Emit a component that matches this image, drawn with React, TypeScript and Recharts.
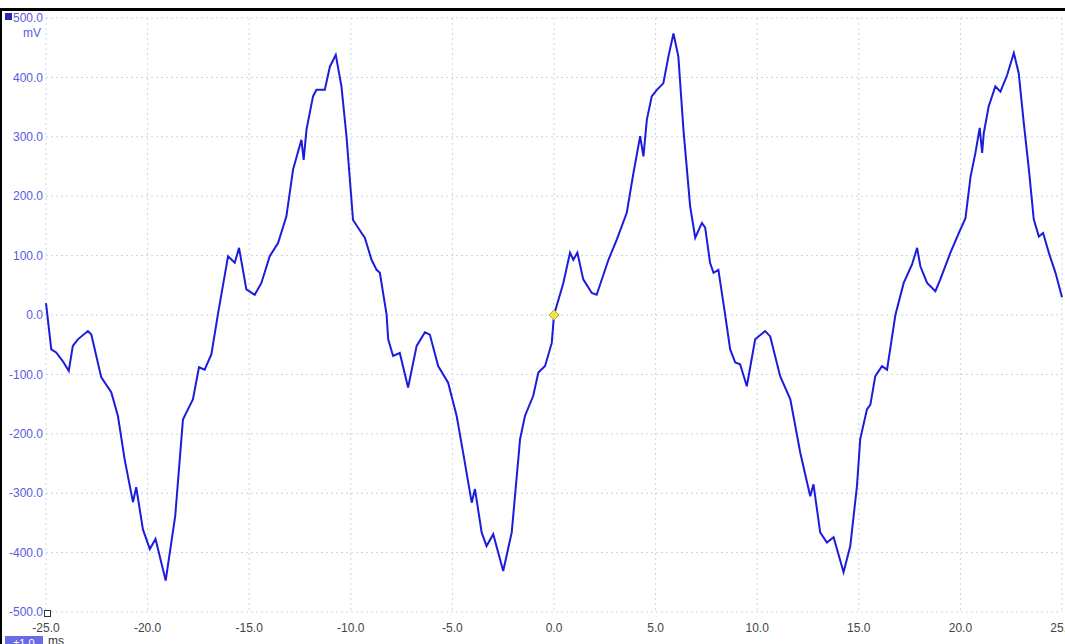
import { LineChart, Line, XAxis, YAxis, CartesianGrid, ReferenceDot } from 'recharts'

// time (ms) and voltage (mV)
const timeMs = [
  -25.0, -24.74, -24.5, -24.17, -23.88, -23.68, -23.43, -22.94, -22.77, -22.28,
  -21.79, -21.46, -21.13, -20.72, -20.56, -20.23, -19.89, -19.61, -19.11, -18.64,
  -18.26, -18.09, -17.77, -17.47, -17.19, -16.86, -16.54, -16.04, -15.71, -15.5,
  -15.14, -14.73, -14.4, -13.99, -13.58, -13.17, -12.84, -12.43, -12.32, -12.18,
  -11.86, -11.69, -11.28, -11.03, -10.74, -10.46, -10.21, -9.89, -9.47, -9.31,
  -8.98, -8.73, -8.57, -8.24, -8.16, -7.92, -7.59, -7.18, -6.76, -6.35,
  -6.11, -5.7, -5.21, -4.79, -4.47, -4.05, -3.89, -3.56, -3.32, -2.99,
  -2.5, -2.08, -1.67, -1.43, -1.02, -0.77, -0.44, -0.11, 0, 0.46,
  0.79, 0.95, 1.15, 1.44, 1.86, 2.1, 2.68, 3.09, 3.58, 3.91,
  4.24, 4.4, 4.57, 4.81, 5.06, 5.38, 5.63, 5.88, 6.12, 6.37,
  6.7, 6.95, 7.28, 7.44, 7.68, 7.85, 8.09, 8.42, 8.67, 8.92,
  9.16, 9.49, 9.9, 10.39, 10.64, 11.13, 11.63, 12.12, 12.61, 12.77,
  13.1, 13.43, 13.76, 14.25, 14.58, 14.91, 15.07, 15.4, 15.57, 15.81,
  16.14, 16.39, 16.8, 17.21, 17.62, 17.87, 18.03, 18.36, 18.77, 19.01,
  19.51, 19.92, 20.25, 20.5, 20.74, 20.95, 21.07, 21.15, 21.39, 21.72,
  21.97, 22.3, 22.63, 22.87, 23.12, 23.37, 23.61, 23.86, 24.07, 24.35,
  24.68, 25.0,
]

const voltageMv = [
  20, -58, -63, -78, -94, -52, -41, -27, -33, -105,
  -130, -170, -243, -315, -290, -361, -394, -377, -447, -338,
  -176, -164, -142, -88, -92, -66, 1, 99, 88, 113,
  43, 34, 54, 99, 121, 166, 245, 295, 261, 312,
  368, 379, 379, 418, 438, 385, 300, 160, 138, 130,
  93, 76, 71, 1, -41, -69, -64, -122, -52, -29,
  -33, -86, -114, -170, -232, -316, -293, -366, -389, -369,
  -431, -366, -209, -170, -136, -97, -86, -47, 0, 54,
  105, 93, 105, 60, 37, 34, 93, 127, 172, 239,
  301, 267, 329, 368, 379, 390, 435, 474, 435, 312,
  183, 130, 155, 147, 88, 71, 76, 1, -58, -80,
  -83, -120, -41, -27, -36, -103, -142, -232, -305, -285,
  -366, -383, -374, -433, -389, -288, -209, -159, -151, -103,
  -86, -92, 0, 54, 85, 113, 82, 54, 40, 60,
  105, 138, 163, 233, 273, 315, 273, 306, 351, 385,
  376, 404, 441, 407, 323, 245, 161, 132, 138, 105,
  71, 30,
]

const xTicks = [-25, -20, -15, -10, -5, 0, 5, 10, 15, 20, 25]
const yTicks = [-500, -400, -300, -200, -100, 0, 100, 200, 300, 400, 500]

const data = timeMs.map((t, i) => ({ t, v: voltageMv[i] }))

const FONT = '"Liberation Sans", Arial, sans-serif'
const GRID = '#c6d6e6'
const TRACE = '#1c1cdc'
const AXIS_BLUE = '#5a5ae0'

function Diamond(props: any) {
  const { cx, cy } = props
  const r = 5
  return (
    <polygon
      points={`${cx},${cy - r} ${cx + r},${cy} ${cx},${cy + r} ${cx - r},${cy}`}
      fill="#f2e63a"
      stroke="#b0a860"
      strokeWidth={1}
    />
  )
}

export default function App() {
  return (
    <div
      style={{
        position: 'absolute',
        left: 0,
        top: 0,
        width: 1065,
        height: 644,
        background: '#fff',
        overflow: 'hidden',
        fontFamily: FONT,
      }}
    >
      <LineChart
        width={1065}
        height={644}
        data={data}
        margin={{ top: 18, right: 3, left: 0, bottom: 0 }}
      >
        <CartesianGrid stroke={GRID} strokeDasharray="2 3" />
        <XAxis
          dataKey="t"
          type="number"
          domain={[-25, 25]}
          ticks={xTicks}
          tickFormatter={(v) => v.toFixed(1)}
          axisLine={false}
          tickLine={false}
          tickSize={0}
          tickMargin={11}
          height={32}
          interval={0}
          tick={{ fill: '#444', fontSize: 12, fontFamily: FONT }}
        />
        <YAxis
          type="number"
          domain={[-500, 500]}
          ticks={yTicks}
          tickFormatter={(v) => v.toFixed(1)}
          axisLine={false}
          tickLine={false}
          tickSize={0}
          tickMargin={3}
          width={46}
          interval={0}
          tick={{ fill: AXIS_BLUE, fontSize: 12, fontFamily: FONT }}
        />
        <Line
          type="linear"
          dataKey="v"
          stroke={TRACE}
          strokeWidth={2}
          dot={false}
          isAnimationActive={false}
        />
        <ReferenceDot x={0} y={0} r={5} shape={<Diamond />} />
      </LineChart>

      {/* window frame */}
      <div style={{ position: 'absolute', left: 0, top: 8, width: 1065, height: 3, background: '#000' }} />
      <div style={{ position: 'absolute', left: 0, top: 8, width: 2, height: 636, background: '#000' }} />

      {/* channel marker and unit */}
      <div style={{ position: 'absolute', left: 5, top: 13, width: 7, height: 7, background: '#2a2aa8' }} />
      <div
        style={{
          position: 'absolute',
          right: 1065 - 41,
          top: 26,
          fontSize: 12,
          color: AXIS_BLUE,
          lineHeight: '14px',
        }}
      >
        mV
      </div>

      {/* trigger marker */}
      <div
        style={{
          position: 'absolute',
          left: 44,
          top: 610,
          width: 5,
          height: 5,
          border: '1px solid #333',
          background: '#fff',
        }}
      />

      {/* time base */}
      <div
        style={{
          position: 'absolute',
          left: 5,
          top: 636,
          width: 38,
          height: 14,
          background: '#6b6be6',
          color: '#fff',
          fontSize: 11,
          lineHeight: '14px',
          textAlign: 'center',
        }}
      >
        ±1.0
      </div>
      <div style={{ position: 'absolute', left: 48, top: 634, fontSize: 12, color: '#333', lineHeight: '14px' }}>
        ms
      </div>
    </div>
  )
}
